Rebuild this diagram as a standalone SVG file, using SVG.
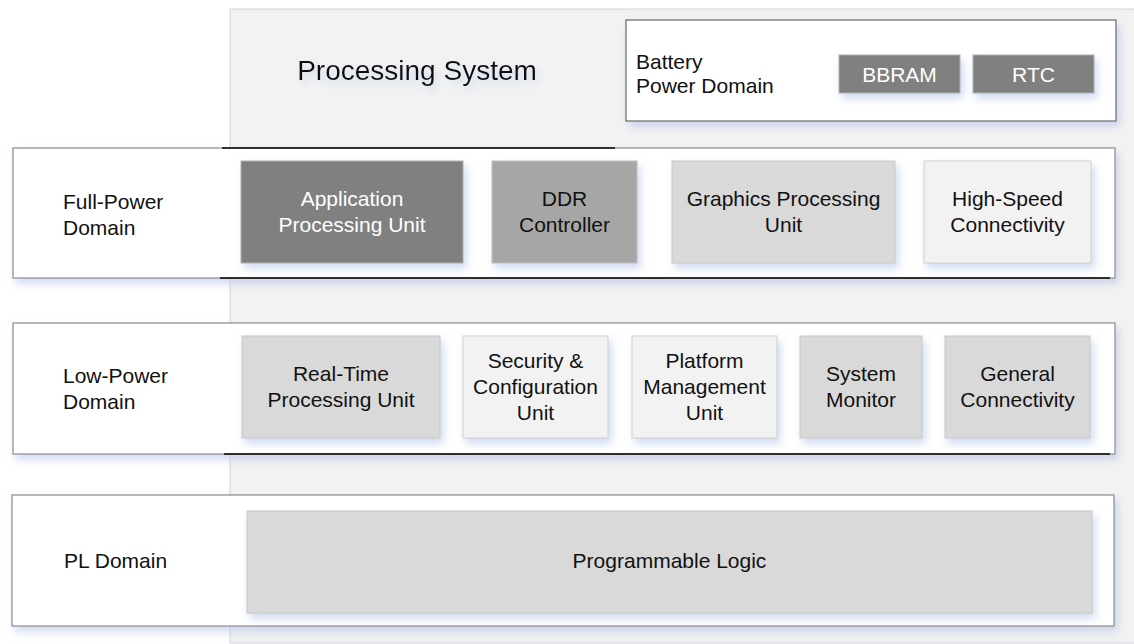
<svg xmlns="http://www.w3.org/2000/svg" width="1134" height="644" viewBox="0 0 1134 644">
<style>
text{font-family:"Liberation Sans",Arial,sans-serif;font-size:21px;fill:#111}
.c{text-anchor:middle}
.w{fill:#fff}
.dom{fill:#fff;stroke:#8a8a8a;stroke-width:1.2}
.blk{fill:#808080;stroke:#b0b0b0;stroke-width:1}
.mid{fill:#a6a6a6;stroke:#c0c0c0;stroke-width:1}
.lt{fill:#d9d9d9;stroke:#c8c8c8;stroke-width:1}
.vl{fill:#f2f2f2;stroke:#d0d0d0;stroke-width:1}
.sep{stroke:#2e2e2e;stroke-width:2;fill:none}
</style>
<defs>
<filter id="sh" x="-10%" y="-20%" width="120%" height="150%">
<feDropShadow dx="3" dy="5" stdDeviation="4" flood-color="#a9bde3" flood-opacity="0.55"/>
</filter>
</defs>
<rect width="1134" height="644" fill="#fff"/>
<g id="processing-system">
<rect x="230" y="9" width="910" height="634" fill="#f2f2f2" stroke="#ccd1da" stroke-width="1"/>
<text x="417" y="80" class="c" style="font-size:28px" filter="url(#sh)">Processing System</text>
</g>
<g id="battery-power-domain">
<rect x="626" y="20" width="490" height="101" fill="#fff" stroke="#666" stroke-width="1.2" filter="url(#sh)"/>
<text x="636" y="69">Battery</text>
<text x="636" y="93">Power Domain</text>
</g>
<g id="bbram">
<rect x="839" y="55" width="121" height="38" class="blk" filter="url(#sh)"/>
<text x="899.5" y="81.5" class="c w">BBRAM</text>
</g>
<g id="rtc">
<rect x="973" y="55" width="121" height="38" class="blk" filter="url(#sh)"/>
<text x="1033.5" y="81.5" class="c w">RTC</text>
</g>
<g id="full-power-domain">
<rect x="13" y="148" width="1102" height="130" class="dom" filter="url(#sh)"/>
<text x="63" y="209">Full-Power</text>
<text x="63" y="235">Domain</text>
</g>
<g id="apu">
<rect x="241" y="161" width="222" height="102" class="blk" filter="url(#sh)"/>
<text x="352" y="206" class="c w">Application</text>
<text x="352" y="232" class="c w">Processing Unit</text>
</g>
<g id="ddr">
<rect x="492" y="161" width="145" height="102" class="mid" filter="url(#sh)"/>
<text x="564.5" y="206" class="c">DDR</text>
<text x="564.5" y="232" class="c">Controller</text>
</g>
<g id="gpu">
<rect x="672" y="161" width="223" height="102" class="lt" filter="url(#sh)"/>
<text x="783.5" y="206" class="c">Graphics Processing</text>
<text x="783.5" y="232" class="c">Unit</text>
</g>
<g id="high-speed">
<rect x="924" y="161" width="167" height="102" class="vl" filter="url(#sh)"/>
<text x="1007.5" y="206" class="c">High-Speed</text>
<text x="1007.5" y="232" class="c">Connectivity</text>
</g>
<g id="low-power-domain">
<rect x="13" y="323" width="1102" height="131" class="dom" filter="url(#sh)"/>
<text x="63" y="383">Low-Power</text>
<text x="63" y="409">Domain</text>
</g>
<g id="rpu">
<rect x="242" y="336" width="198" height="102" class="lt" filter="url(#sh)"/>
<text x="341" y="381" class="c">Real-Time</text>
<text x="341" y="407" class="c">Processing Unit</text>
</g>
<g id="scu">
<rect x="463" y="336" width="145" height="102" class="vl" filter="url(#sh)"/>
<text x="535.5" y="368" class="c">Security &amp;</text>
<text x="535.5" y="394" class="c">Configuration</text>
<text x="535.5" y="420" class="c">Unit</text>
</g>
<g id="pmu">
<rect x="632" y="336" width="145" height="102" class="vl" filter="url(#sh)"/>
<text x="704.5" y="368" class="c">Platform</text>
<text x="704.5" y="394" class="c">Management</text>
<text x="704.5" y="420" class="c">Unit</text>
</g>
<g id="sysmon">
<rect x="800" y="336" width="122" height="102" class="lt" filter="url(#sh)"/>
<text x="861" y="381" class="c">System</text>
<text x="861" y="407" class="c">Monitor</text>
</g>
<g id="general">
<rect x="945" y="336" width="145" height="102" class="lt" filter="url(#sh)"/>
<text x="1017.5" y="381" class="c">General</text>
<text x="1017.5" y="407" class="c">Connectivity</text>
</g>
<g id="pl-domain">
<rect x="12" y="495" width="1102" height="131" class="dom" filter="url(#sh)"/>
<text x="64" y="568">PL Domain</text>
</g>
<g id="programmable-logic">
<rect x="247" y="511" width="845" height="102" class="lt" filter="url(#sh)"/>
<text x="669.5" y="568" class="c">Programmable Logic</text>
</g>
<g id="connectors">
<line x1="222" y1="148" x2="615" y2="148" class="sep"/>
<line x1="220" y1="278" x2="1110" y2="278" class="sep"/>
<line x1="224" y1="454" x2="1110" y2="454" class="sep"/>
</g>
</svg>
